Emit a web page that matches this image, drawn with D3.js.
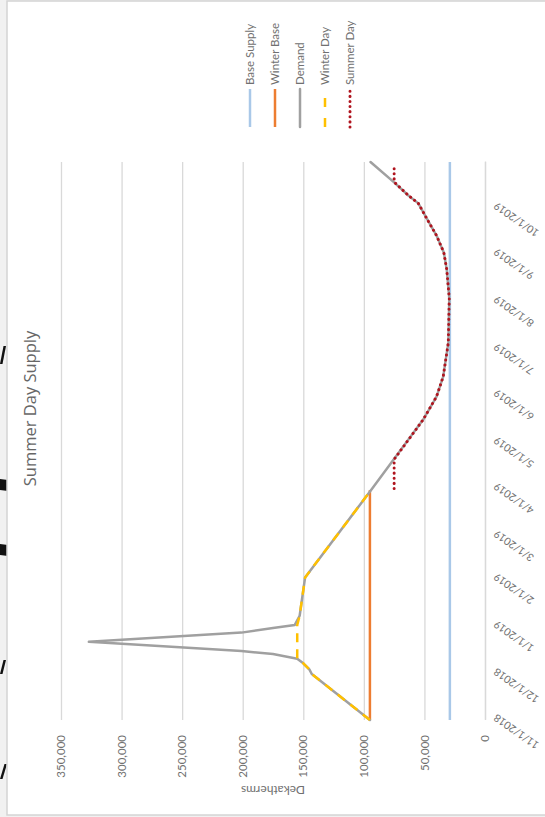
<!DOCTYPE html>
<html>
<head>
<meta charset="utf-8">
<script src="https://cdn.jsdelivr.net/npm/d3@7"></script>
<style>
  html, body { margin: 0; padding: 0; background: #f1f1f1; }
  svg { display: block; }
  text { font-family: Lato, "Open Sans", sans-serif; }
</style>
</head>
<body>
<svg id="chart" width="545" height="817"></svg>
<script>
// ---- data ----
const seriesNames = ["Base Supply", "Winter Base", "Demand", "Winter Day", "Summer Day"];
const valueTicks = [0, 50000, 100000, 150000, 200000, 250000, 300000, 350000];
const dateTicks = ["2018-11-01", "2018-12-01", "2019-01-01", "2019-02-01", "2019-03-01", "2019-04-01",
                   "2019-05-01", "2019-06-01", "2019-07-01", "2019-08-01", "2019-09-01", "2019-10-01"];

const baseSupplyDates = ["2018-11-01", "2019-10-31"];
const baseSupplyValues = [29000, 29000];

const winterBaseDates = ["2018-11-01", "2019-03-31"];
const winterBaseValues = [95000, 95000];

const demandDates = ["2018-11-01", "2018-12-01", "2018-12-04", "2018-12-08", "2018-12-11", "2018-12-14",
                     "2018-12-16", "2018-12-22", "2018-12-28", "2018-12-31", "2019-01-02", "2019-01-08",
                     "2019-02-02", "2019-03-31", "2019-05-16", "2019-05-31", "2019-06-13", "2019-07-05",
                     "2019-08-03", "2019-08-22", "2019-09-02", "2019-09-13", "2019-09-24", "2019-10-04",
                     "2019-10-09", "2019-10-18", "2019-10-31"];
const demandValues = [95000, 143000, 145000, 150000, 155000, 175000,
                      201000, 327000, 201000, 175000, 157000, 153000,
                      148500, 94000, 51000, 40000, 34500, 30300,
                      29500, 31600, 34000, 40000, 48000, 55000,
                      63000, 75500, 94500];

const winterDayDates = ["2018-11-01", "2018-12-01", "2018-12-04", "2018-12-08", "2018-12-11",
                        "2019-01-02", "2019-01-08", "2019-02-02", "2019-03-31"];
const winterDayValues = [95000, 143000, 145000, 150000, 155000,
                         155000, 153000, 148500, 94000];

const summerDayDates = ["2019-04-01", "2019-04-20", "2019-05-16", "2019-05-31", "2019-06-13", "2019-07-05",
                        "2019-08-03", "2019-08-22", "2019-09-02", "2019-09-13", "2019-09-24", "2019-10-04",
                        "2019-10-09", "2019-10-18", "2019-10-29"];
const summerDayValues = [75000, 75000, 51000, 40000, 34500, 30300,
                         29500, 31600, 34000, 40000, 48000, 55000,
                         63000, 75000, 75000];

// ---- layout (chart is drawn in its own frame, then turned a quarter turn) ----
const SW = 545, SH = 817;          // page size
const OW = SH, OH = SW;            // chart frame size before turning
const plot = { left: 97, right: 655, top: 61, bottom: 485 };

const parse = d3.timeParse("%Y-%m-%d");
const fmt = d3.timeFormat("%-m/%-d/%Y");

const x = d3.scaleTime()
  .domain([parse("2018-11-01"), parse("2019-10-31")])
  .range([plot.left, plot.right]);
const y = d3.scaleLinear().domain([0, 350000]).range([plot.bottom, plot.top]);

const svg = d3.select("#chart");

// clipped glyph fragments of the neighbouring page column, along the left edge
const edgeBits = [
  "M0,364 L2.5,364 L6,346 L3.5,346 Z",
  "M0,479 L8,480 L8,491 L0,490 Z",
  "M0,544 L8,545 L8,556 L0,555 Z",
  "M0,674 L2.5,674 L6,660 L3.5,660 Z",
  "M0,779 L2.5,779 L7,764 L4.5,764 Z"
];
svg.append("g").selectAll("path").data(edgeBits).join("path")
  .attr("d", d => d).attr("fill", "#111111");

const g = svg.append("g").attr("transform", `translate(0,${SH}) rotate(-90)`);

// chart area
g.append("rect")
  .attr("x", 2).attr("y", 7).attr("width", OW - 3).attr("height", OH + 10)
  .attr("fill", "#ffffff").attr("stroke", "#d4d4d4").attr("stroke-width", 1.5);

// gridlines + value labels
const yAxis = d3.axisLeft(y).tickValues(valueTicks).tickFormat(d3.format(",")).tickSize(-(plot.right - plot.left)).tickPadding(15);
const yg = g.append("g").attr("transform", `translate(${plot.left},0)`).call(yAxis);
yg.select(".domain").remove();
yg.selectAll(".tick line").attr("stroke", "#d9d9d9").attr("stroke-width", 1.3);
yg.selectAll(".tick text").attr("fill", "#707070").style("font-size", "11.5px");

// date axis
const xAxis = d3.axisBottom(x).tickValues(dateTicks.map(parse)).tickFormat(fmt).tickSize(0).tickPadding(0);
const xg = g.append("g").attr("transform", `translate(0,${plot.bottom})`).call(xAxis);
xg.select(".domain").attr("stroke", "#d9d9d9").attr("stroke-width", 1.3);
xg.selectAll(".tick text")
  .attr("fill", "#707070").style("font-size", "10.5px")
  .attr("text-anchor", "end")
  .attr("dy", "0.35em")
  .attr("transform", "translate(3,10) rotate(-55)");

// axis title
g.append("text")
  .attr("transform", `translate(27,${(plot.top + plot.bottom) / 2}) rotate(-90)`)
  .attr("text-anchor", "middle").attr("dy", "0.35em")
  .attr("fill", "#707070").style("font-size", "12px")
  .text("Dekatherms");

// title
g.append("text")
  .attr("x", OW / 2).attr("y", 36)
  .attr("text-anchor", "middle")
  .attr("fill", "#666666").style("font-size", "16.5px").style("font-family", "'Open Sans', sans-serif")
  .text("Summer Day Supply");

// ---- series ----
const line = d3.line().x(d => x(d[0])).y(d => y(d[1]));
const zipSeries = (dates, values) => dates.map((d, i) => [parse(d), values[i]]);

const styles = {
  "Base Supply": { color: "#a9c8e8", dash: null, cap: "butt", width: 2.5 },
  "Winter Base": { color: "#ed7d31", dash: null, cap: "butt", width: 2.5 },
  "Demand":      { color: "#a0a0a0", dash: null, cap: "round", width: 2.5 },
  "Winter Day":  { color: "#ffc000", dash: "9,7", cap: "butt", width: 2.5 },
  "Summer Day":  { color: "#b0141e", dash: "0.1,5", cap: "round", width: 3 }
};

const series = [
  ["Base Supply", zipSeries(baseSupplyDates, baseSupplyValues)],
  ["Winter Base", zipSeries(winterBaseDates, winterBaseValues)],
  ["Demand", zipSeries(demandDates, demandValues)],
  ["Winter Day", zipSeries(winterDayDates, winterDayValues)],
  ["Summer Day", zipSeries(summerDayDates, summerDayValues)]
];

g.append("g").selectAll("path").data(series).join("path")
  .attr("d", d => line(d[1]))
  .attr("fill", "none")
  .attr("stroke", d => styles[d[0]].color)
  .attr("stroke-width", d => styles[d[0]].width)
  .attr("stroke-dasharray", d => styles[d[0]].dash)
  .attr("stroke-linecap", d => styles[d[0]].cap)
  .attr("stroke-linejoin", "round");

// ---- legend ----
const legendY = d3.scalePoint().domain(seriesNames).range([250, 350]);
const lg = g.append("g").selectAll("g").data(seriesNames).join("g")
  .attr("transform", d => `translate(690,${legendY(d)})`);
lg.append("line")
  .attr("x1", 0).attr("x2", 38)
  .attr("stroke", d => styles[d].color)
  .attr("stroke-width", d => styles[d].width)
  .attr("stroke-dasharray", d => d === "Winter Day" ? "9,11" : styles[d].dash)
  .attr("stroke-linecap", d => styles[d].cap);
lg.append("text")
  .attr("x", 42).attr("dy", "0.35em")
  .attr("fill", "#707070").style("font-size", "11.5px")
  .text(d => d);
</script>
</body>
</html>
